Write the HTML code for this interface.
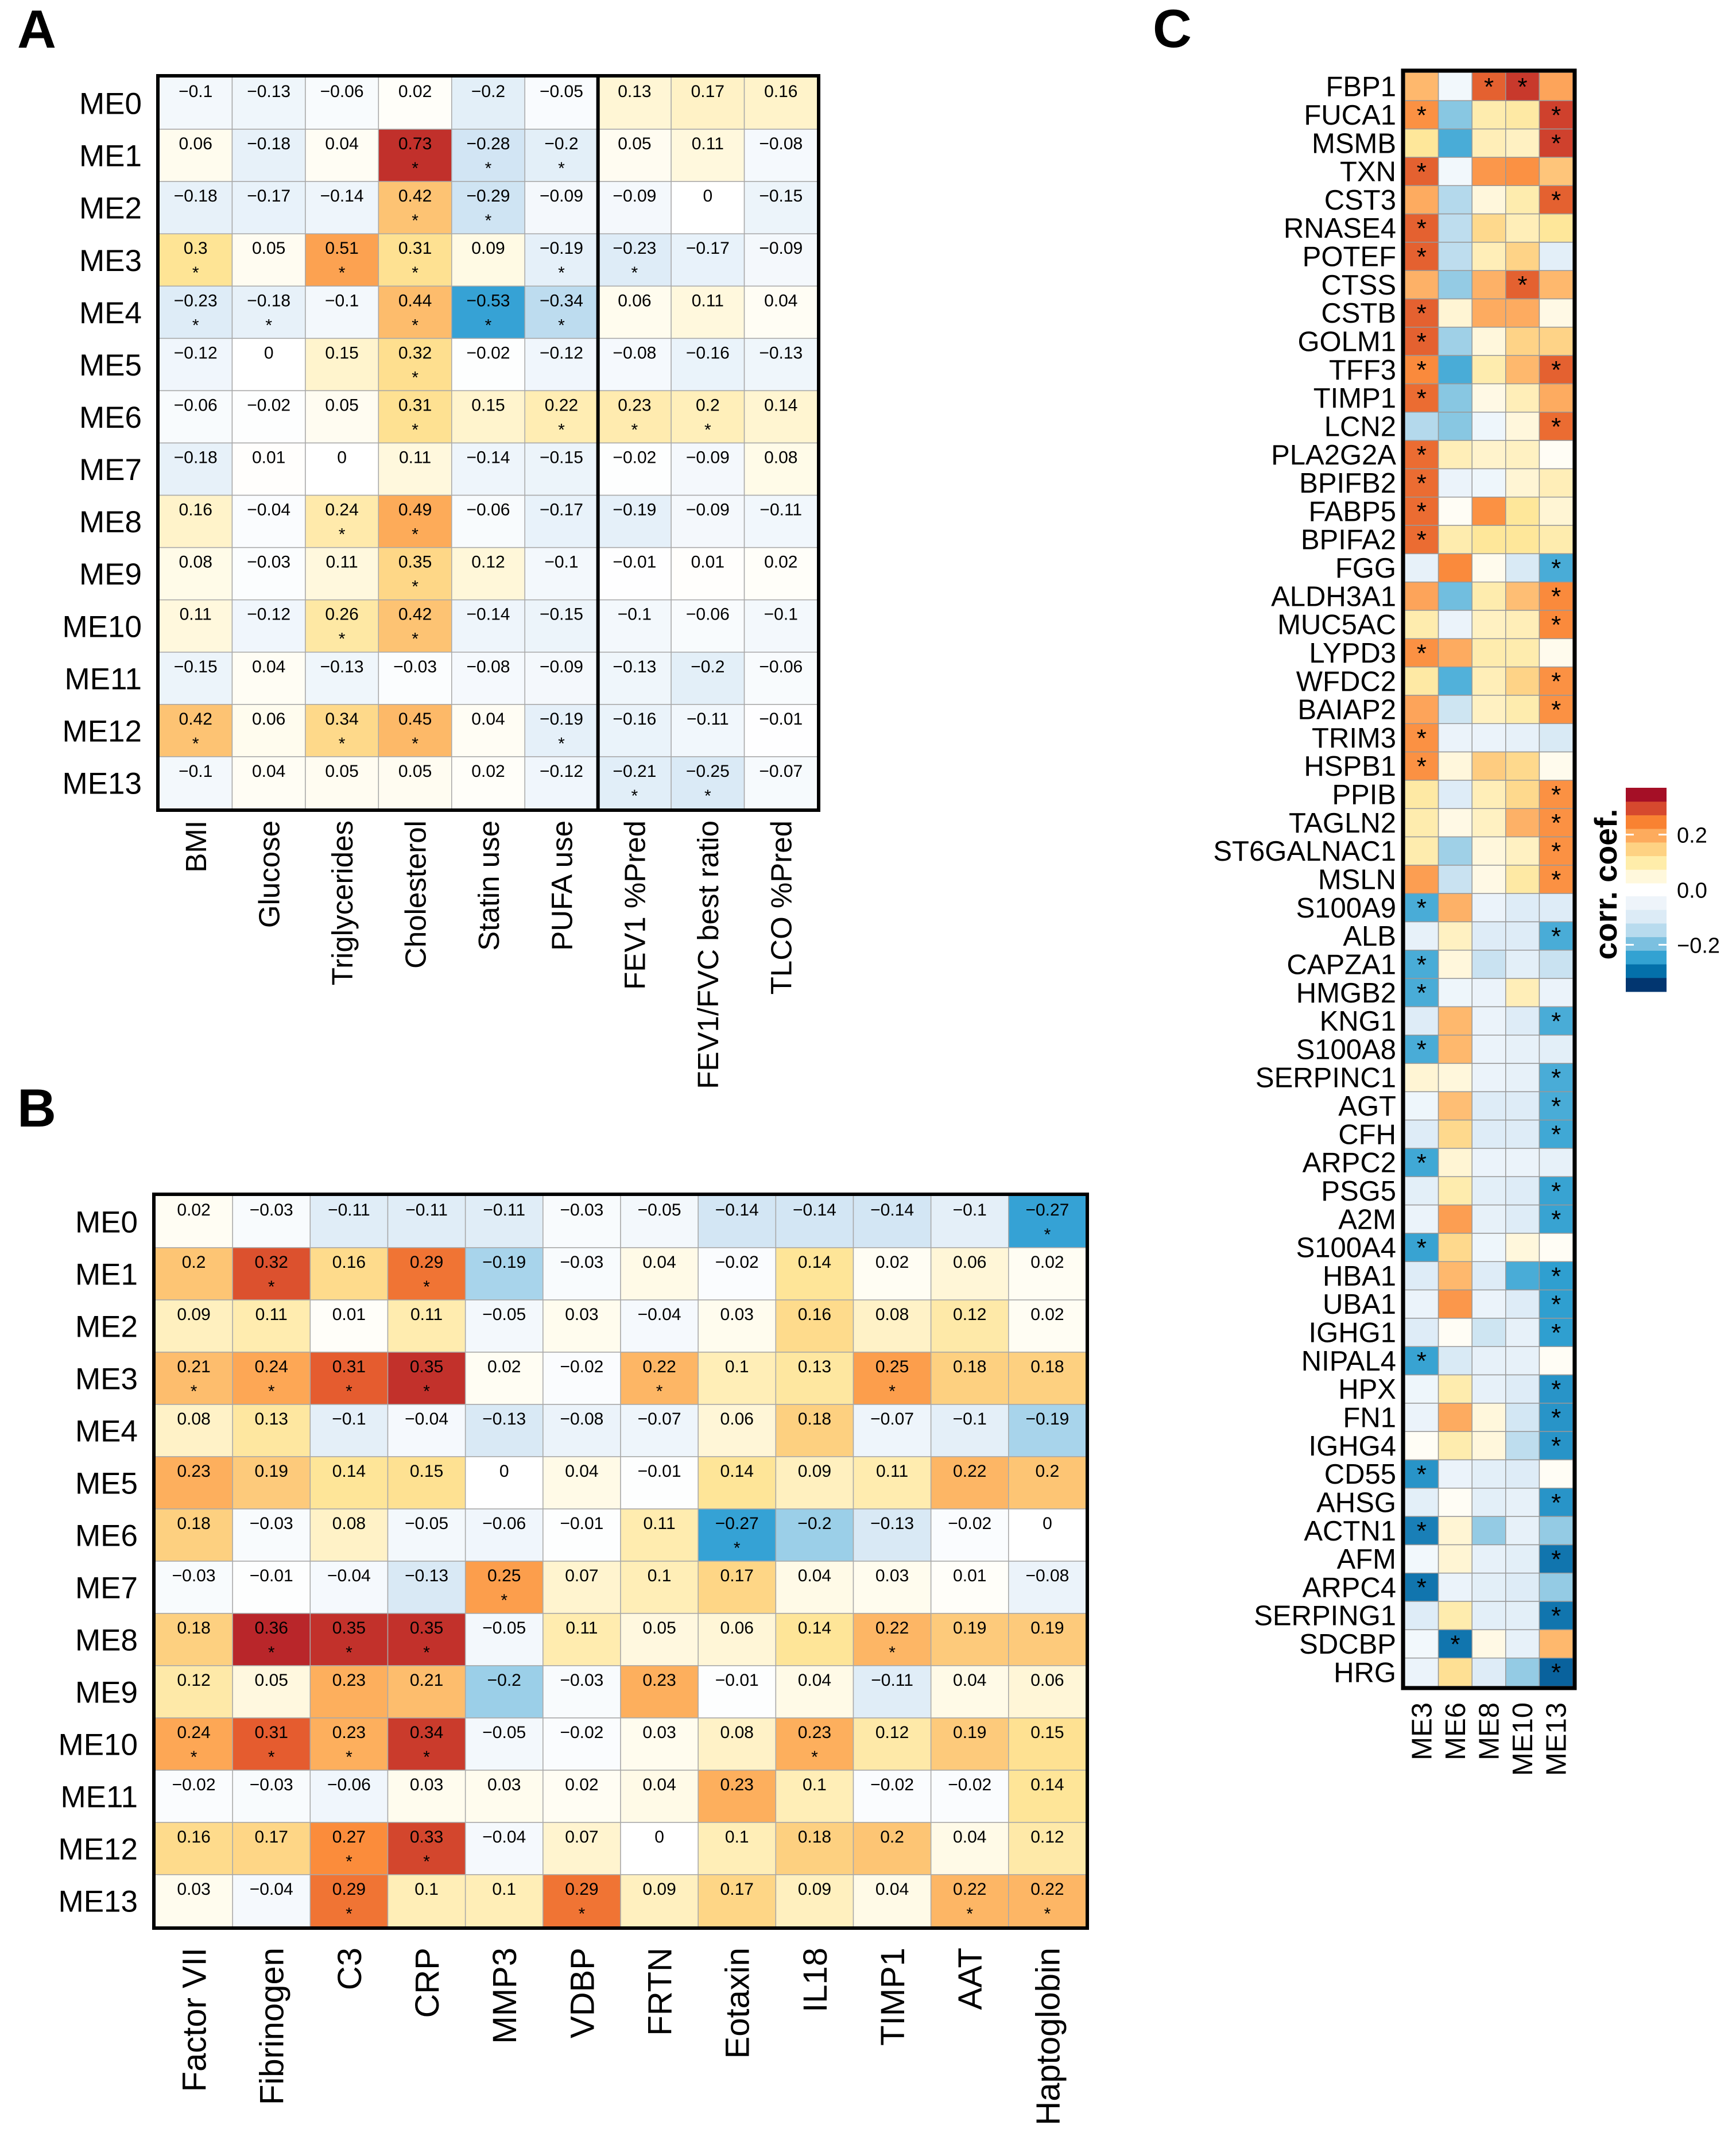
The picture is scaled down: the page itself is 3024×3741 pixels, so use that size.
<!DOCTYPE html>
<html><head><meta charset="utf-8"><style>
html,body{margin:0;padding:0;background:#fff;}
svg{display:block;font-family:"Liberation Sans",Arial,sans-serif;}
</style></head><body>
<svg id="fig" width="3024" height="3741" viewBox="0 0 3024 3741" xmlns="http://www.w3.org/2000/svg">
<text x="30" y="83" font-size="94" font-weight="bold">A</text>
<text x="30" y="1962" font-size="94" font-weight="bold">B</text>
<text x="2008" y="82" font-size="94" font-weight="bold">C</text>
<g id="pa"></g>
<g id="pb"></g>
<g id="pc"></g>
<g id="leg"></g>
</svg>
<script>
const modules = ["ME0","ME1","ME2","ME3","ME4","ME5","ME6","ME7","ME8","ME9","ME10","ME11","ME12","ME13"];
const aCols = ["BMI","Glucose","Triglycerides","Cholesterol","Statin use","PUFA use","FEV1 %Pred","FEV1/FVC best ratio","TLCO %Pred"];
const aVals = [
[-0.1,-0.13,-0.06,0.02,-0.2,-0.05,0.13,0.17,0.16],
[0.06,-0.18,0.04,0.73,-0.28,-0.2,0.05,0.11,-0.08],
[-0.18,-0.17,-0.14,0.42,-0.29,-0.09,-0.09,0,-0.15],
[0.3,0.05,0.51,0.31,0.09,-0.19,-0.23,-0.17,-0.09],
[-0.23,-0.18,-0.1,0.44,-0.53,-0.34,0.06,0.11,0.04],
[-0.12,0,0.15,0.32,-0.02,-0.12,-0.08,-0.16,-0.13],
[-0.06,-0.02,0.05,0.31,0.15,0.22,0.23,0.2,0.14],
[-0.18,0.01,0,0.11,-0.14,-0.15,-0.02,-0.09,0.08],
[0.16,-0.04,0.24,0.49,-0.06,-0.17,-0.19,-0.09,-0.11],
[0.08,-0.03,0.11,0.35,0.12,-0.1,-0.01,0.01,0.02],
[0.11,-0.12,0.26,0.42,-0.14,-0.15,-0.1,-0.06,-0.1],
[-0.15,0.04,-0.13,-0.03,-0.08,-0.09,-0.13,-0.2,-0.06],
[0.42,0.06,0.34,0.45,0.04,-0.19,-0.16,-0.11,-0.01],
[-0.1,0.04,0.05,0.05,0.02,-0.12,-0.21,-0.25,-0.07]];
const aStars = [
[0,0,0,0,0,0,0,0,0],[0,0,0,1,1,1,0,0,0],[0,0,0,1,1,0,0,0,0],[1,0,1,1,0,1,1,0,0],
[1,1,0,1,1,1,0,0,0],[0,0,0,1,0,0,0,0,0],[0,0,0,1,0,1,1,1,0],[0,0,0,0,0,0,0,0,0],
[0,0,1,1,0,0,0,0,0],[0,0,0,1,0,0,0,0,0],[0,0,1,1,0,0,0,0,0],[0,0,0,0,0,0,0,0,0],
[1,0,1,1,0,1,0,0,0],[0,0,0,0,0,0,1,1,0]];
const bCols = ["Factor VII","Fibrinogen","C3","CRP","MMP3","VDBP","FRTN","Eotaxin","IL18","TIMP1","AAT","Haptoglobin"];
const bVals = [
[0.02,-0.03,-0.11,-0.11,-0.11,-0.03,-0.05,-0.14,-0.14,-0.14,-0.1,-0.27],
[0.2,0.32,0.16,0.29,-0.19,-0.03,0.04,-0.02,0.14,0.02,0.06,0.02],
[0.09,0.11,0.01,0.11,-0.05,0.03,-0.04,0.03,0.16,0.08,0.12,0.02],
[0.21,0.24,0.31,0.35,0.02,-0.02,0.22,0.1,0.13,0.25,0.18,0.18],
[0.08,0.13,-0.1,-0.04,-0.13,-0.08,-0.07,0.06,0.18,-0.07,-0.1,-0.19],
[0.23,0.19,0.14,0.15,0,0.04,-0.01,0.14,0.09,0.11,0.22,0.2],
[0.18,-0.03,0.08,-0.05,-0.06,-0.01,0.11,-0.27,-0.2,-0.13,-0.02,0],
[-0.03,-0.01,-0.04,-0.13,0.25,0.07,0.1,0.17,0.04,0.03,0.01,-0.08],
[0.18,0.36,0.35,0.35,-0.05,0.11,0.05,0.06,0.14,0.22,0.19,0.19],
[0.12,0.05,0.23,0.21,-0.2,-0.03,0.23,-0.01,0.04,-0.11,0.04,0.06],
[0.24,0.31,0.23,0.34,-0.05,-0.02,0.03,0.08,0.23,0.12,0.19,0.15],
[-0.02,-0.03,-0.06,0.03,0.03,0.02,0.04,0.23,0.1,-0.02,-0.02,0.14],
[0.16,0.17,0.27,0.33,-0.04,0.07,0,0.1,0.18,0.2,0.04,0.12],
[0.03,-0.04,0.29,0.1,0.1,0.29,0.09,0.17,0.09,0.04,0.22,0.22]];
const bStars = [
[0,0,0,0,0,0,0,0,0,0,0,1],[0,1,0,1,0,0,0,0,0,0,0,0],[0,0,0,0,0,0,0,0,0,0,0,0],
[1,1,1,1,0,0,1,0,0,1,0,0],[0,0,0,0,0,0,0,0,0,0,0,0],[0,0,0,0,0,0,0,0,0,0,0,0],
[0,0,0,0,0,0,0,1,0,0,0,0],[0,0,0,0,1,0,0,0,0,0,0,0],[0,1,1,1,0,0,0,0,0,1,0,0],
[0,0,0,0,0,0,0,0,0,0,0,0],[1,1,1,1,0,0,0,0,1,0,0,0],[0,0,0,0,0,0,0,0,0,0,0,0],
[0,0,1,1,0,0,0,0,0,0,0,0],[0,0,1,0,0,1,0,0,0,0,1,1]];
const cCols = ["ME3","ME6","ME8","ME10","ME13"];
const genes = ["FBP1","FUCA1","MSMB","TXN","CST3","RNASE4","POTEF","CTSS","CSTB","GOLM1","TFF3","TIMP1","LCN2","PLA2G2A","BPIFB2","FABP5","BPIFA2","FGG","ALDH3A1","MUC5AC","LYPD3","WFDC2","BAIAP2","TRIM3","HSPB1","PPIB","TAGLN2","ST6GALNAC1","MSLN","S100A9","ALB","CAPZA1","HMGB2","KNG1","S100A8","SERPINC1","AGT","CFH","ARPC2","PSG5","A2M","S100A4","HBA1","UBA1","IGHG1","NIPAL4","HPX","FN1","IGHG4","CD55","AHSG","ACTN1","AFM","ARPC4","SERPING1","SDCBP","HRG"];
const cVals = [
[0.17,-0.01,0.28,0.32,0.2],[0.23,-0.16,0.08,0.09,0.31],[0.1,-0.22,0.07,0.06,0.31],[0.28,-0.01,0.22,0.23,0.15],
[0.19,-0.12,0.03,0.08,0.28],[0.28,-0.11,0.12,0.07,0.1],[0.28,-0.11,0.07,0.13,-0.05],[0.18,-0.15,0.18,0.28,0.17],
[0.28,0.04,0.19,0.19,0.02],[0.28,-0.14,0.03,0.13,0.13],[0.24,-0.22,0.08,0.17,0.28],[0.27,-0.16,0.02,0.07,0.19],
[-0.12,-0.16,-0.02,0.03,0.27],[0.27,0.07,0.05,0.06,0],[0.27,-0.03,-0.02,0.04,0.07],[0.27,0,0.23,0.1,0.04],
[0.27,0.08,0.1,0.1,0.08],[-0.04,0.24,0.01,-0.07,-0.22],[0.2,-0.18,0.08,0.16,0.24],[0.08,-0.03,0.06,0.07,0.24],
[0.23,0.19,0.08,0.08,0.01],[0.09,-0.21,0.07,0.13,0.23],[0.2,-0.09,0.06,0.08,0.23],[0.23,-0.03,-0.03,-0.04,-0.07],
[0.23,0.03,0.14,0.12,0.01],[0.09,-0.06,0.07,0.12,0.23],[0.08,0.02,0.06,0.18,0.23],[0.08,-0.14,0.03,0.06,0.23],
[0.21,-0.1,0.02,0.09,0.23],[-0.22,0.18,-0.03,-0.06,-0.06],[-0.04,0.06,-0.06,-0.06,-0.22],[-0.22,0.03,-0.1,-0.05,-0.1],
[-0.22,-0.02,-0.03,0.07,-0.03],[-0.06,0.17,-0.03,-0.06,-0.22],[-0.22,0.17,-0.03,-0.04,-0.05],[0.04,0.03,-0.03,-0.04,-0.22],
[-0.02,0.16,-0.06,-0.06,-0.22],[-0.06,0.12,-0.06,-0.06,-0.23],[-0.23,0.04,-0.03,-0.03,-0.04],[-0.05,0.08,-0.05,-0.06,-0.24],
[-0.03,0.21,-0.04,-0.06,-0.24],[-0.24,0.12,-0.02,0.03,0],[-0.06,0.17,-0.06,-0.22,-0.25],[-0.03,0.22,-0.03,-0.06,-0.25],
[-0.06,0,-0.09,-0.04,-0.25],[-0.24,-0.07,-0.04,-0.04,0],[-0.02,0.08,-0.04,-0.06,-0.26],[-0.03,0.19,0.03,-0.08,-0.26],
[0,0.08,0.03,-0.11,-0.26],[-0.26,-0.03,-0.05,-0.06,0],[-0.05,0,-0.05,-0.04,-0.26],[-0.28,0.04,-0.15,-0.04,-0.15],
[-0.01,0.04,-0.04,-0.05,-0.29],[-0.29,-0.03,-0.05,-0.06,-0.15],[-0.06,0.08,-0.05,-0.05,-0.29],[-0.01,-0.29,0.02,-0.04,0.17],
[-0.03,0.11,-0.06,-0.15,-0.31]];
const cStars = [
[0,0,1,1,0],[1,0,0,0,1],[0,0,0,0,1],[1,0,0,0,0],[0,0,0,0,1],[1,0,0,0,0],[1,0,0,0,0],[0,0,0,1,0],[1,0,0,0,0],[1,0,0,0,0],
[1,0,0,0,1],[1,0,0,0,0],[0,0,0,0,1],[1,0,0,0,0],[1,0,0,0,0],[1,0,0,0,0],[1,0,0,0,0],[0,0,0,0,1],[0,0,0,0,1],[0,0,0,0,1],
[1,0,0,0,0],[0,0,0,0,1],[0,0,0,0,1],[1,0,0,0,0],[1,0,0,0,0],[0,0,0,0,1],[0,0,0,0,1],[0,0,0,0,1],[0,0,0,0,1],[1,0,0,0,0],
[0,0,0,0,1],[1,0,0,0,0],[1,0,0,0,0],[0,0,0,0,1],[1,0,0,0,0],[0,0,0,0,1],[0,0,0,0,1],[0,0,0,0,1],[1,0,0,0,0],[0,0,0,0,1],
[0,0,0,0,1],[1,0,0,0,0],[0,0,0,0,1],[0,0,0,0,1],[0,0,0,0,1],[1,0,0,0,0],[0,0,0,0,1],[0,0,0,0,1],[0,0,0,0,1],[1,0,0,0,0],
[0,0,0,0,1],[1,0,0,0,0],[0,0,0,0,1],[1,0,0,0,0],[0,0,0,0,1],[0,1,0,0,0],[0,0,0,0,1]];
const legendTicks = [0.2, 0.0, -0.2];

const NS = "http://www.w3.org/2000/svg";
function mk(tag, attrs, parent){const e=document.createElementNS(NS,tag);for(const k in attrs)e.setAttribute(k,attrs[k]);parent.appendChild(e);return e;}
function hex(h){return [parseInt(h.slice(1,3),16),parseInt(h.slice(3,5),16),parseInt(h.slice(5,7),16)];}
function interp(stops, t){
  t=Math.max(0,Math.min(1,t));
  for(let i=1;i<stops.length;i++){ if(t<=stops[i][0]){const a=stops[i-1],b=stops[i];const f=(t-a[0])/(b[0]-a[0]||1);const ca=hex(a[1]),cb=hex(b[1]);
    return "rgb("+ca.map((c,j)=>Math.round(c+(cb[j]-c)*f)).join(",")+")";}}
  return stops[stops.length-1][1];
}
const posStops=[[0,"#ffffff"],[0.1,"#fffbea"],[0.25,"#fff0bf"],[0.4,"#fee495"],[0.55,"#fdc676"],[0.65,"#fdac5a"],[0.75,"#fb8c3b"],[0.85,"#e8602f"],[1,"#b9262a"]];
const negStops=[[0,"#ffffff"],[0.25,"#eef5fb"],[0.45,"#dbeaf6"],[0.6,"#c3def0"],[0.75,"#8fcae6"],[0.9,"#4aaede"],[1,"#2a9bd0"]];
function colAB(v,pmax,nmax){return v>=0?interp(posStops,v/pmax):interp(negStops,-v/nmax);}
const cPos=[[0,"#fffdf5"],[0.05,"#fff3cc"],[0.1,"#fee79a"],[0.15,"#fec57a"],[0.2,"#fda45a"],[0.25,"#f98434"],[0.3,"#d6492e"],[0.35,"#b22028"]];
const cNeg=[[0,"#f6fafd"],[0.05,"#e3eff8"],[0.1,"#c9e2f1"],[0.15,"#94cbe4"],[0.2,"#5ab5dc"],[0.25,"#2f9fd0"],[0.3,"#0a6aa6"],[0.35,"#03407a"]];
function colC(v){return v>=0?interp(cPos.map(s=>[s[0]/0.35,s[1]]),v/0.35):interp(cNeg.map(s=>[s[0]/0.35,s[1]]),-v/0.35);}
function fmt(v){return String(v).replace("-","\u2212");}

function heat(g, cfg){
  const {x0,y0,x1,y1,rows,cols,vals,stars,pmax,nmax,sep} = cfg;
  const cw=(x1-x0)/cols.length, rh=(y1-y0)/rows.length;
  const X=i=>x0+i*cw, Y=j=>y0+j*rh;
  rows.forEach((r,j)=>{
    const t=mk("text",{x:x0-30,y:Y(j)+rh/2+19,"font-size":53,"text-anchor":"end"},g);t.textContent=r;
    
    
    cols.forEach((c,i)=>{
      const v=vals[j][i];
      const rc=mk("rect",{x:X(i),y:Y(j),width:cw,height:rh,fill:colAB(v,pmax,nmax),stroke:"#a8a8a8","stroke-width":1.5},g);
      
      
      const tt=mk("text",{x:X(i)+cw/2,y:Y(j)+35,"font-size":30,"text-anchor":"middle"},g);tt.textContent=fmt(v);
      
      
      if(stars[j][i]){const s=mk("text",{x:X(i)+cw/2,y:Y(j)+78,"font-size":30,"text-anchor":"middle"},g);s.textContent="*";
        
        }
    });
  });
  cols.forEach((c,i)=>{
    const cx=X(i)+cw/2+cfg.lfs*0.36, cy=y1+cfg.loff;
    const t=mk("text",{x:cx,y:cy,"font-size":cfg.lfs,"text-anchor":"end",transform:"rotate(-90 "+cx+" "+cy+")"},g);t.textContent=c;
    
    
  });
  mk("rect",{x:x0-2,y:y0-2,width:x1-x0+4,height:y1-y0+4,fill:"none",stroke:"#000","stroke-width":6},g);
  if(sep!=null) mk("line",{x1:X(sep),x2:X(sep),y1:y0,y2:y1,stroke:"#000","stroke-width":6},g);
}
heat(document.getElementById("pa"),{x0:277,y0:134,x1:1424,y1:1409,rows:modules,cols:aCols,vals:aVals,stars:aStars,pmax:0.75,nmax:0.55,sep:6,lfs:51,loff:20});
heat(document.getElementById("pb"),{x0:270,y0:2082,x1:1892,y1:3356,rows:modules,cols:bCols,vals:bVals,stars:bStars,pmax:0.36,nmax:0.28,sep:null,lfs:58,loff:36});

// Panel C
(function(){
  const g=document.getElementById("pc");
  const x0=2447,x1=2740,y0=126,y1=2937;
  const cw=(x1-x0)/cCols.length, rh=(y1-y0)/genes.length;
  const X=i=>x0+i*cw, Y=j=>y0+j*rh;
  genes.forEach((gn,j)=>{
    const t=mk("text",{x:2432,y:Y(j)+rh/2+17,"font-size":49,"text-anchor":"end"},g);t.textContent=gn;
    
    
    cCols.forEach((c,i)=>{
      const v=cVals[j][i];
      const rc=mk("rect",{x:X(i),y:Y(j),width:cw,height:rh,fill:colC(v),stroke:"#999","stroke-width":1.5},g);
      
      
      if(cStars[j][i]){const s=mk("text",{x:X(i)+cw/2,y:Y(j)+40,"font-size":44,"text-anchor":"middle"},g);s.textContent="*";
        
        }
    });
  });
  cCols.forEach((c,i)=>{
    const cx=X(i)+cw/2+17, cy=2965;
    const t=mk("text",{x:cx,y:cy,"font-size":49,"text-anchor":"end",transform:"rotate(-90 "+cx+" "+cy+")"},g);t.textContent=c;
    
    
  });
  mk("rect",{x:x0-3,y:y0-3,width:x1-x0+6,height:y1-y0+6,fill:"none",stroke:"#000","stroke-width":7},g);
})();

// Legend
(function(){
  const g=document.getElementById("leg");
  const lx=2832,lw=71,top=1372,bot=1727;
  const vTop=0.37, vBot=-0.37;
  const Y=v=>top+(vTop-v)/(vTop-vBot)*(bot-top);
  const posBins=["#fff8dc","#ffedaa","#fed283","#fdab5d","#f98232","#d6492e","#a50f26"];
  const negBins=["#eef4fa","#dcebf6","#b8dbee","#7bc0e0","#33a2d2","#0470aa","#023670"];
  const step=(vTop-0.024)/7;
  posBins.forEach((c,k)=>{const lo=0.024+k*step,hi=lo+step;
    const r=mk("rect",{x:lx,y:Y(hi),width:lw,height:Y(lo)-Y(hi)+0.5,fill:c},g);
    
    });
  negBins.forEach((c,k)=>{const hi=-0.024-k*step,lo=hi-step;
    const r=mk("rect",{x:lx,y:Y(hi),width:lw,height:Y(lo)-Y(hi)+0.5,fill:c},g);
    
    });
  legendTicks.forEach(v=>{
    if(v!==0){mk("line",{x1:lx,x2:lx+14,y1:Y(v),y2:Y(v),stroke:"#fff","stroke-width":3},g);
      mk("line",{x1:lx+lw-14,x2:lx+lw,y1:Y(v),y2:Y(v),stroke:"#fff","stroke-width":3},g);}
    const t=mk("text",{x:2921,y:Y(v)+14,"font-size":38},g);t.textContent=(v<0?"\u2212":"")+Math.abs(v).toFixed(1);
    
    
  });
  const t=mk("text",{x:2816,y:1540,"font-size":55,"font-weight":"bold","text-anchor":"middle",transform:"rotate(-90 2816 1540)"},g);t.textContent="corr. coef.";
  
  
})();
</script>
</body></html>
